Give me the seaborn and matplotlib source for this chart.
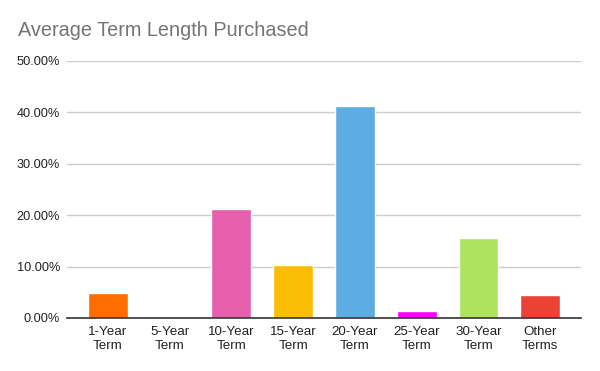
import matplotlib
matplotlib.use("Agg")
import matplotlib.pyplot as plt
import seaborn as sns
import pandas as pd
from matplotlib.ticker import FuncFormatter, MultipleLocator

categories = ["1-Year\nTerm", "5-Year\nTerm", "10-Year\nTerm", "15-Year\nTerm",
              "20-Year\nTerm", "25-Year\nTerm", "30-Year\nTerm", "Other\nTerms"]
values = [0.049, 0.0, 0.212, 0.103, 0.412, 0.014, 0.156, 0.045]
colors = ["#ff6d01", "#ff9900", "#e55fad", "#fbbc04", "#5dade2", "#ff00ff", "#ade35e", "#ea4335"]
title = "Average Term Length Purchased"

df = pd.DataFrame({"category": categories, "value": values})

sns.set_theme(style="white")
plt.rcParams["font.family"] = ["Liberation Sans", "DejaVu Sans"]

fig = plt.figure(figsize=(6.0, 3.71), dpi=100)
ax = fig.add_axes([0.1117, 0.1429, 0.8567, 0.6927])

sns.barplot(data=df, x="category", y="value", hue="category", palette=colors,
            order=categories, hue_order=categories, legend=False, width=0.645,
            saturation=1, ax=ax, zorder=3)

ax.set_ylim(0, 0.5)
ax.set_xlim(-0.66, 7.66)
ax.yaxis.set_major_locator(MultipleLocator(0.1))
ax.yaxis.set_major_formatter(FuncFormatter(lambda v, p: f"{v*100:.2f}%"))
ax.grid(axis="y", color="#cccccc", linewidth=1, zorder=0)
ax.grid(axis="x", visible=False)
for s in ["top", "right", "left"]:
    ax.spines[s].set_visible(False)
ax.spines["bottom"].set_color("#333333")
ax.spines["bottom"].set_linewidth(1.2)
ax.spines["bottom"].set_zorder(4)
ax.set_xlabel("")
ax.set_ylabel("")
ax.tick_params(axis="both", length=0, colors="#222222")
ax.tick_params(axis="y", pad=5, labelsize=9.2)
ax.tick_params(axis="x", pad=5.5, labelsize=9.6)
ax.set_xticks(range(len(categories)))
ax.set_xticklabels(categories, linespacing=1.3)

fig.text(0.03, 0.918, title, fontsize=14.3, color="#757575", ha="left", va="center")

fig.savefig("out.png", dpi=100)
